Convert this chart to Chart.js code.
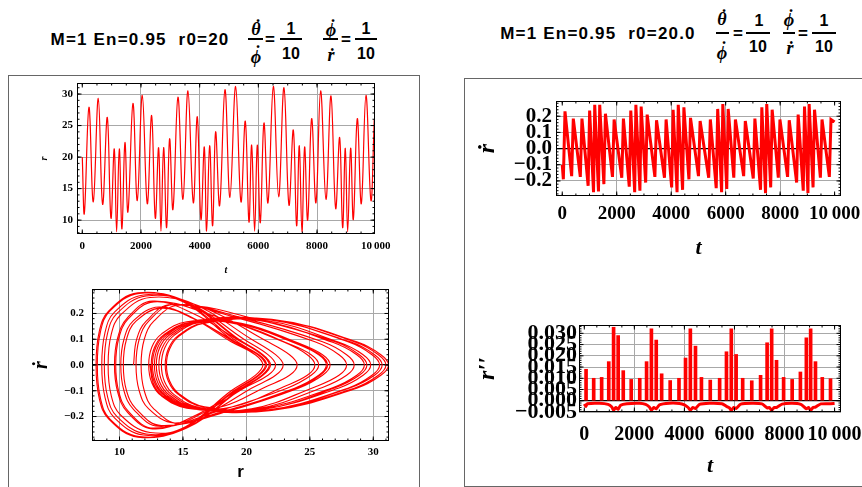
<!DOCTYPE html>
<html>
<head>
<meta charset="utf-8">
<script src="https://cdn.jsdelivr.net/npm/chart.js@4.4.1/dist/chart.umd.min.js"></script>
<style>
  html, body { margin: 0; padding: 0; background: #fff; }
  body { width: 862px; height: 487px; position: relative; overflow: hidden; }
  canvas { position: absolute; }
  .box { position: absolute; border: 1.5px solid #666; box-sizing: border-box; }
  .t { position: absolute; white-space: nowrap; transform: translate(-50%, -50%); line-height: 1; color: #000; }
  .sans { font-family: 'Liberation Sans', Arial, sans-serif; font-weight: bold; }
  .ser { font-family: 'Liberation Serif', 'Times New Roman', serif; font-style: italic; font-weight: bold; }
  .bar { position: absolute; height: 1.5px; background: #000; }
</style>
</head>
<body>
<!-- panel frames -->
<div class="box" style="left:8px;top:75px;width:412px;height:430px"></div>
<div class="box" style="left:464px;top:78px;width:420px;height:409px"></div>

<!-- left title -->
<div class="t sans" style="left:140px;top:39px;font-size:17px;letter-spacing:1.2px">M=1 En=0.95&nbsp; r0=20</div>
<div class="t ser" style="left:257px;top:27px;font-size:18px">˙</div>
<div class="t ser" style="left:256px;top:29px;font-size:18px">θ</div>
<div class="bar" style="left:248px;top:38px;width:15px"></div>
<div class="t ser" style="left:257px;top:53px;font-size:18px">˙</div>
<div class="t ser" style="left:256px;top:57px;font-size:18px">ϕ</div>
<div class="t sans" style="left:270px;top:39px;font-size:17px">=</div>
<div class="bar" style="left:280px;top:38px;width:22px"></div>
<div class="t sans" style="left:291px;top:29px;font-size:16px">1</div>
<div class="t sans" style="left:291px;top:54px;font-size:16px">10</div>
<div class="t ser" style="left:332px;top:27px;font-size:18px">˙</div>
<div class="t ser" style="left:331px;top:30px;font-size:18px">ϕ</div>
<div class="bar" style="left:323px;top:38px;width:15px"></div>
<div class="t ser" style="left:331px;top:55px;font-size:18px">ṙ</div>
<div class="t sans" style="left:346px;top:39px;font-size:17px">=</div>
<div class="bar" style="left:355px;top:38px;width:22px"></div>
<div class="t sans" style="left:366px;top:29px;font-size:16px">1</div>
<div class="t sans" style="left:366px;top:54px;font-size:16px">10</div>

<!-- right title -->
<div class="t sans" style="left:598px;top:33px;font-size:17px;letter-spacing:1.2px">M=1 En=0.95&nbsp; r0=20.0</div>
<div class="t ser" style="left:723px;top:17px;font-size:18px">˙</div>
<div class="t ser" style="left:722px;top:19px;font-size:18px">θ</div>
<div class="bar" style="left:716px;top:32px;width:13px"></div>
<div class="t ser" style="left:723px;top:49px;font-size:18px">˙</div>
<div class="t ser" style="left:722px;top:53px;font-size:18px">ϕ</div>
<div class="t sans" style="left:738px;top:33px;font-size:17px">=</div>
<div class="bar" style="left:746px;top:32px;width:24px"></div>
<div class="t sans" style="left:759px;top:21px;font-size:16px">1</div>
<div class="t sans" style="left:758px;top:47px;font-size:16px">10</div>
<div class="t ser" style="left:790px;top:17px;font-size:18px">˙</div>
<div class="t ser" style="left:789px;top:20px;font-size:18px">ϕ</div>
<div class="bar" style="left:783px;top:32px;width:12px"></div>
<div class="t ser" style="left:790px;top:48px;font-size:18px">ṙ</div>
<div class="t sans" style="left:803px;top:33px;font-size:17px">=</div>
<div class="bar" style="left:812px;top:32px;width:24px"></div>
<div class="t sans" style="left:824px;top:21px;font-size:16px">1</div>
<div class="t sans" style="left:824px;top:47px;font-size:16px">10</div>

<canvas id="cA" width="380" height="200" style="left:20px;top:78px"></canvas>
<canvas id="cB" width="395" height="202" style="left:20px;top:285px"></canvas>
<canvas id="cC" width="392" height="170" style="left:470px;top:95px"></canvas>
<canvas id="cD" width="392" height="167" style="left:470px;top:318px"></canvas>

<script>
// r(t): turning points of the orbit
const rTimes = [0, 70, 227, 375, 545, 693, 852, 977, 1090, 1170, 1261, 1352, 1454, 1556, 1727, 1874, 2045, 2215, 2363, 2488,
  2601, 2681, 2772, 2874, 2976, 3090, 3260, 3431, 3601, 3783, 3919, 4044, 4158, 4237, 4340, 4442, 4544, 4680, 4862, 5032,
  5226, 5407, 5555, 5680, 5771, 5873, 5964, 6066, 6191, 6328, 6510, 6691, 6873, 7043, 7191, 7304, 7395, 7486, 7577, 7680,
  7816, 7963, 8122, 8304, 8475, 8634, 8770, 8872, 8963, 9043, 9145, 9236, 9372, 9508, 9667, 9837, 9950];
const rValues = [20, 11.06, 27.9, 12.9, 29.3, 12.5, 26.3, 10.3, 21.3, 8.15, 21.3, 8.6, 22.3, 11.3, 28.5, 13.1, 29.8, 12.6, 26.6, 10.3,
  21.5, 8.25, 21.5, 8.8, 22.9, 11.7, 29.5, 13.3, 30.5, 12.75, 26.4, 10.1, 21.6, 8.25, 21.8, 9.1, 24, 12.3, 30.7, 13.6,
  31.2, 12.9, 25.7, 9.7, 21.9, 8.25, 21.9, 9.6, 25.4, 12.75, 31.2, 13.7, 31, 12.4, 24.3, 9.1, 21.8, 8.15, 21.6, 10,
  26.1, 12.75, 30.5, 13.3, 29.7, 11.85, 23.1, 8.8, 21.4, 8.15, 21.4, 10.1, 26.1, 12.6, 29.8, 13.1, 26];

// phase portrait (r, rdot) traced along the orbit
const phasePoints = [
  [11.1,0],
  [11.35,.10],[12.1,.17],[14.1,.235],[19.5,.18],[25.4,.09],[27.3,.04],[27.9,0],
  [27.3,-.04],[25.4,-.085],[20.4,-.17],[15.9,-.165],[13.9,-.115],[13.15,-.065],[12.9,0],
  [13.15,.065],[13.9,.115],[15.9,.165],[21.1,.172],[26.8,.088],[28.7,.04],[29.3,0],
  [28.7,-.04],[26.8,-.088],[20.9,-.172],[15.5,-.168],[13.5,-.118],[12.75,-.068],[12.5,0],
  [12.75,.068],[13.5,.118],[15.5,.165],[19.4,.16],[23.8,.085],[25.7,.04],[26.3,0],
  [25.7,-.04],[23.8,-.09],[18.3,-.18],[13.3,-.235],[11.3,-.17],[10.55,-.10],[10.3,0],
  [10.55,.10],[11.3,.17],[13.3,.22],[15.8,.18],[18.8,.09],[20.7,.04],[21.3,0],
  [20.7,-.04],[18.8,-.10],[15,-.245],[11.45,-.28],[9.15,-.21],[8.4,-.13],[8.15,0],
  [8.4,.13],[9.15,.21],[11.45,.28],[15,.245],[18.8,.10],[20.7,.04],[21.3,0],
  [20.7,-.04],[18.8,-.10],[15.2,-.24],[11.9,-.272],[9.6,-.205],[8.85,-.125],[8.6,0],
  [8.85,.125],[9.6,.205],[11.9,.272],[15.5,.24],[19.8,.10],[21.7,.04],[22.3,0],
  [21.7,-.04],[19.8,-.09],[16.8,-.18],[14.3,-.225],[12.3,-.17],[11.55,-.10],[11.3,0],
  [11.55,.10],[12.3,.17],[14.3,.235],[19.9,.18],[26,.09],[27.9,.04],[28.5,0],
  [27.9,-.04],[26,-.087],[20.8,-.17],[16.1,-.165],[14.1,-.115],[13.35,-.065],[13.1,0],
  [13.35,.065],[14.1,.115],[16.1,.165],[21.5,.173],[27.3,.088],[29.2,.04],[29.8,0],
  [29.2,-.04],[27.3,-.089],[21.2,-.173],[15.6,-.167],[13.6,-.117],[12.85,-.067],[12.6,0],
  [12.85,.067],[13.6,.117],[15.6,.166],[19.6,.162],[24.1,.085],[26,.04],[26.6,0],
  [26,-.04],[24.1,-.09],[18.5,-.18],[13.3,-.236],[11.3,-.17],[10.55,-.10],[10.3,0],
  [10.55,.10],[11.3,.17],[13.3,.222],[15.9,.18],[19,.09],[20.9,.04],[21.5,0],
  [20.9,-.04],[19,-.10],[15.1,-.245],[11.55,-.278],[9.25,-.21],[8.5,-.13],[8.25,0],
  [8.5,.13],[9.25,.21],[11.55,.278],[15.1,.245],[19,.10],[20.9,.04],[21.5,0],
  [20.9,-.04],[19,-.10],[15.3,-.238],[12.1,-.268],[9.8,-.2],[9.05,-.122],[8.8,0],
  [9.05,.122],[9.8,.2],[12.1,.268],[15.8,.238],[20.4,.10],[22.3,.04],[22.9,0],
  [22.3,-.04],[20.4,-.09],[17.3,-.18],[14.7,-.228],[12.7,-.17],[11.95,-.10],[11.7,0],
  [11.95,.10],[12.7,.17],[14.7,.232],[20.6,.18],[27,.09],[28.9,.04],[29.5,0],
  [28.9,-.04],[27,-.088],[21.4,-.172],[16.3,-.165],[14.3,-.115],[13.55,-.065],[13.3,0],
  [13.55,.065],[14.3,.115],[16.3,.165],[21.9,.175],[28,.09],[29.9,.04],[30.5,0],
  [29.9,-.04],[28,-.09],[21.6,-.175],[15.75,-.166],[13.75,-.117],[13,-.067],[12.75,0],
  [13,.067],[13.75,.117],[15.75,.166],[19.6,.16],[23.9,.085],[25.8,.04],[26.4,0],
  [25.8,-.04],[23.9,-.09],[18.2,-.18],[13.1,-.238],[11.1,-.172],[10.35,-.10],[10.1,0],
  [10.35,.10],[11.1,.172],[13.1,.225],[15.9,.18],[19.1,.09],[21,.04],[21.6,0],
  [21,-.04],[19.1,-.10],[15.1,-.245],[11.55,-.278],[9.25,-.21],[8.5,-.13],[8.25,0],
  [8.5,.13],[9.25,.21],[11.55,.278],[15.2,.245],[19.3,.10],[21.2,.04],[21.8,0],
  [21.2,-.04],[19.3,-.10],[15.6,-.235],[12.4,-.262],[10.1,-.195],[9.35,-.12],[9.1,0],
  [9.35,.12],[10.1,.195],[12.4,.262],[16.5,.225],[21.5,.095],[23.4,.04],[24,0],
  [23.4,-.04],[21.5,-.085],[18.2,-.16],[15.3,-.168],[13.3,-.12],[12.55,-.07],[12.3,0],
  [12.55,.07],[13.3,.12],[15.3,.168],[21.5,.178],[28.2,.09],[30.1,.04],[30.7,0],
  [30.1,-.04],[28.2,-.088],[22.1,-.172],[16.6,-.163],[14.6,-.113],[13.85,-.063],[13.6,0],
  [13.85,.063],[14.6,.113],[16.6,.163],[22.4,.174],[28.7,.09],[30.6,.04],[31.2,0],
  [30.6,-.04],[28.7,-.09],[22,-.176],[15.9,-.166],[13.9,-.116],[13.15,-.066],[12.9,0],
  [13.15,.066],[13.9,.116],[15.9,.165],[19.3,.158],[23.2,.085],[25.1,.04],[25.7,0],
  [25.1,-.04],[23.2,-.09],[17.7,-.18],[12.7,-.245],[10.7,-.18],[9.95,-.105],[9.7,0],
  [9.95,.105],[10.7,.18],[12.7,.245],[15.8,.2],[19.4,.095],[21.3,.04],[21.9,0],
  [21.3,-.04],[19.4,-.10],[15.3,-.245],[11.55,-.278],[9.25,-.21],[8.5,-.13],[8.25,0],
  [8.5,.13],[9.25,.21],[11.55,.278],[15.3,.245],[19.4,.10],[21.3,.04],[21.9,0],
  [21.3,-.04],[19.4,-.095],[15.8,-.2],[12.6,-.248],[10.6,-.182],[9.85,-.105],[9.6,0],
  [9.85,.105],[10.6,.182],[12.6,.248],[17.5,.19],[22.9,.09],[24.8,.04],[25.4,0],
  [24.8,-.04],[22.9,-.085],[19.1,-.16],[15.75,-.166],[13.75,-.117],[13,-.067],[12.75,0],
  [13,.067],[13.75,.117],[15.75,.166],[22,.177],[28.7,.09],[30.6,.04],[31.2,0],
  [30.6,-.04],[28.7,-.09],[22.4,-.172],[16.7,-.162],[14.7,-.112],[13.95,-.062],[13.7,0],
  [13.95,.062],[14.7,.112],[16.7,.162],[22.4,.174],[28.5,.09],[30.4,.04],[31,0],
  [30.4,-.04],[28.5,-.09],[21.7,-.177],[15.4,-.168],[13.4,-.12],[12.65,-.07],[12.4,0]
];

// rdot(t): extremes of the saw-tooth in the top-right plot
const rdotTimes = [0, 40, 100, 345, 405, 663, 723, 950, 1005, 1148, 1192, 1330, 1375, 1528, 1585, 1844, 1904, 2185, 2245,
  2460, 2516, 2659, 2703, 2851, 2897, 3062, 3118, 3401, 3461, 3753, 3813, 4017, 4071, 4215, 4259, 4418, 4466, 4651, 4709,
  5002, 5062, 5377, 5437, 5653, 5707, 5851, 5895, 6040, 6092, 6298, 6358, 6661, 6721, 7013, 7073, 7280, 7328, 7464, 7508,
  7653, 7707, 7933, 7993, 8274, 8334, 8606, 8662, 8849, 8895, 9021, 9065, 9209, 9263, 9478, 9538, 9807, 9867, 10000];
const rdotValues = [-0.10, -0.19, 0.23, -0.17, 0.185, -0.175, 0.185, -0.23, 0.235, -0.27, 0.27, -0.265, 0.27, -0.22, 0.215,
  -0.175, 0.18, -0.18, 0.185, -0.235, 0.235, -0.27, 0.27, -0.26, 0.26, -0.21, 0.21, -0.175, 0.175, -0.18, 0.18,
  -0.24, 0.24, -0.27, 0.27, -0.255, 0.255, -0.19, 0.19, -0.17, 0.17, -0.18, 0.18, -0.245, 0.245, -0.27, 0.275,
  -0.25, 0.245, -0.18, 0.18, -0.17, 0.17, -0.185, 0.185, -0.255, 0.255, -0.275, 0.275, -0.24, 0.24, -0.18, 0.18,
  -0.175, 0.175, -0.21, 0.21, -0.26, 0.26, -0.275, 0.275, -0.24, 0.24, -0.18, 0.18, -0.175, 0.18, 0.165];

// r''(t): spikes at each periapsis plus the slightly negative background
const spikeTimes = [70, 375, 693, 977, 1170, 1352, 1556, 1874, 2215, 2488, 2681, 2874, 3090, 3431, 3783, 4044, 4237, 4442, 4680,
  5032, 5407, 5680, 5873, 6066, 6328, 6691, 7043, 7304, 7486, 7680, 7963, 8304, 8634, 8872, 9043, 9236, 9508, 9837];
const spikeValues = [0.014, 0.010, 0.0104, 0.0174, 0.0327, 0.029, 0.0134, 0.0095, 0.010, 0.0174, 0.032, 0.027, 0.012, 0.009,
  0.010, 0.019, 0.032, 0.0243, 0.0104, 0.0092, 0.010, 0.0218, 0.032, 0.0206, 0.010, 0.0089, 0.0113, 0.0258, 0.032, 0.018,
  0.0104, 0.0095, 0.0128, 0.028, 0.032, 0.0174, 0.0104, 0.0098];
const baseTimes = [0, 60, 120, 600, 950, 1100, 1170, 1260, 1352, 1450, 1700, 2200, 2450, 2600, 2681, 2780, 2874, 3000, 3400,
  3800, 4000, 4150, 4237, 4340, 4442, 4600, 5000, 5500, 5680, 5800, 5873, 5970, 6066, 6250, 6700, 7100, 7304, 7400, 7486,
  7580, 7680, 7900, 8300, 8650, 8872, 8960, 9043, 9140, 9236, 9450, 9837, 10000];
const baseValues = [-0.0014, -0.0025, -0.0013, -0.0011, -0.0016, -0.0028, -0.0042, -0.003, -0.0038, -0.002, -0.0013, -0.0011,
  -0.0016, -0.0028, -0.0042, -0.003, -0.0036, -0.0018, -0.0011, -0.0012, -0.0018, -0.003, -0.0042, -0.003, -0.0035, -0.0016,
  -0.0011, -0.0013, -0.0025, -0.0032, -0.0043, -0.003, -0.0034, -0.0015, -0.0011, -0.0014, -0.0032, -0.003, -0.0043, -0.003,
  -0.003, -0.0015, -0.0011, -0.0016, -0.0036, -0.003, -0.0043, -0.003, -0.0028, -0.0014, -0.0013, -0.0012];

// tick values and labels
const tTicks = [0, 2000, 4000, 6000, 8000, 10000];
const tLabels = ['0', '2000', '4000', '6000', '8000', '10\u2009000'];
const rTicks = [10, 15, 20, 25, 30];
const rLabels = ['10', '15', '20', '25', '30'];
const phaseXTicks = [10, 15, 20, 25, 30];
const phaseXLabels = ['10', '15', '20', '25', '30'];
const rdotTicks = [-0.2, -0.1, 0, 0.1, 0.2];
const rdotLabels = ['\u22120.2', '\u22120.1', '0.0', '0.1', '0.2'];
const rddTicks = [-0.005, 0, 0.005, 0.01, 0.015, 0.02, 0.025, 0.03];
const rddLabels = ['\u22120.005', '0.000', '0.005', '0.010', '0.015', '0.020', '0.025', '0.030'];

const RED = '#ff0000';
const GRID = '#a8a8a8';
const SERIF = "'Liberation Serif', 'Times New Roman', serif";

// frame with inward ticks (major on the scale ticks, minor by step)
const framePlugin = {
  id: 'frame',
  afterDatasetsDraw(chart, args, opts) {
    const { ctx, chartArea: a, scales: { x, y } } = chart;
    const L = Math.round(a.left) + 0.5, R = Math.round(a.right) - 0.5;
    const T = Math.round(a.top) + 0.5, B = Math.round(a.bottom) - 0.5;
    ctx.save();
    ctx.strokeStyle = '#000';
    ctx.lineWidth = 1;
    ctx.beginPath();
    const xMark = (v, len) => {
      const p = x.getPixelForValue(v);
      if (p < L || p > R) return;
      ctx.moveTo(p, B); ctx.lineTo(p, B - len);
      ctx.moveTo(p, T); ctx.lineTo(p, T + len);
    };
    const yMark = (v, len) => {
      const p = y.getPixelForValue(v);
      if (p < T || p > B) return;
      ctx.moveTo(L, p); ctx.lineTo(L + len, p);
      ctx.moveTo(R, p); ctx.lineTo(R - len, p);
    };
    for (let v = Math.ceil(x.min / opts.xMinor) * opts.xMinor; v <= x.max; v += opts.xMinor) xMark(v, 2);
    for (let v = Math.ceil(y.min / opts.yMinor) * opts.yMinor; v <= y.max; v += opts.yMinor) yMark(v, 2);
    x.ticks.forEach(t => xMark(t.value, 4));
    y.ticks.forEach(t => yMark(t.value, 4));
    ctx.stroke();
    ctx.strokeRect(L, T, R - L, B - T);
    ctx.restore();
  }
};

function axis(o) {
  return {
    type: 'linear',
    min: o.min,
    max: o.max,
    offset: false,
    afterBuildTicks: s => { s.ticks = o.ticks.map(v => ({ value: v })); },
    afterFit: s => {
      if (o.w != null) s.width = o.w;
      if (o.h != null) s.height = o.h;
      s.paddingLeft = 0; s.paddingRight = 0; s.paddingTop = 0; s.paddingBottom = 0;
    },
    border: { display: false },
    grid: {
      drawTicks: false,
      offset: false,
      color: c => o.hide.includes(c.tick.value) ? 'rgba(0,0,0,0)' : (c.tick.value === 0 ? '#000' : GRID),
      lineWidth: c => c.tick.value === 0 ? 1.3 : 1
    },
    ticks: {
      autoSkip: false, maxRotation: 0, minRotation: 0,
      padding: o.pad, color: '#000',
      font: { family: SERIF, weight: 'bold', size: o.fs },
      callback: (v, i) => o.labels[i]
    },
    title: { display: true, text: o.title, color: '#000', font: o.tfont, padding: o.tpad }
  };
}

function baseOptions(pad, frame) {
  return {
    responsive: false,
    animation: false,
    events: [],
    layout: { padding: pad },
    plugins: { legend: { display: false }, tooltip: { enabled: false }, frame: frame }
  };
}

// top-left: r(t)
new Chart(document.getElementById('cA'), {
  type: 'scatter',
  data: {
    datasets: [{
      data: rTimes.map((t, i) => ({ x: t, y: rValues[i] })),
      showLine: true, borderColor: RED, borderWidth: 1.2, pointRadius: 0, tension: 0.4
    }]
  },
  options: Object.assign(baseOptions({ top: 5, right: 25, left: 0, bottom: 0 }, { xMinor: 500, yMinor: 1 }), {
    scales: {
      x: axis({ min: -180, max: 9975, ticks: tTicks, labels: tLabels, hide: [0, 10000], h: 44, pad: 6, fs: 11,
        title: 't', tfont: { family: SERIF, style: 'italic', weight: 'bold', size: 10 }, tpad: { top: 0, bottom: 2 } }),
      y: axis({ min: 7.8, max: 31.75, ticks: rTicks, labels: rLabels, hide: [], w: 57, pad: 4, fs: 11,
        title: 'r', tfont: { family: SERIF, style: 'italic', weight: 'bold', size: 10 }, tpad: { top: 18, bottom: 0 } })
    }
  }),
  plugins: [framePlugin]
});

// bottom-left: phase portrait
new Chart(document.getElementById('cB'), {
  type: 'scatter',
  data: {
    datasets: [{
      data: phasePoints.map(p => ({ x: p[0], y: p[1] })),
      showLine: true, borderColor: RED, borderWidth: 1.1, pointRadius: 0, tension: 0.4
    }]
  },
  options: Object.assign(baseOptions({ top: 4, right: 26, left: 0, bottom: 0 }, { xMinor: 1, yMinor: 0.02 }), {
    scales: {
      x: axis({ min: 7.83, max: 31.24, ticks: phaseXTicks, labels: phaseXLabels, hide: [], h: 46, pad: 5, fs: 11,
        title: 'r', tfont: { family: "'Liberation Sans', Arial, sans-serif", weight: 'bold', size: 17 }, tpad: { top: 0, bottom: 4 } }),
      y: axis({ min: -0.295, max: 0.295, ticks: rdotTicks, labels: rdotLabels, hide: [], w: 72, pad: 8, fs: 11,
        title: 'ṙ', tfont: { family: SERIF, style: 'italic', weight: 'bold', size: 20 }, tpad: { top: 10, bottom: 0 } })
    }
  }),
  plugins: [framePlugin]
});

// top-right: rdot(t)
new Chart(document.getElementById('cC'), {
  type: 'scatter',
  data: {
    datasets: [{
      data: rdotTimes.map((t, i) => ({ x: t, y: rdotValues[i] })),
      showLine: true, borderColor: RED, borderWidth: 3, pointRadius: 0, tension: 0
    }]
  },
  options: Object.assign(baseOptions({ top: 6, right: 21, left: 0, bottom: 0 }, { xMinor: 500, yMinor: 0.02 }), {
    scales: {
      x: axis({ min: -230, max: 10235, ticks: tTicks, labels: tLabels, hide: [0, 10000], h: 69, pad: 7, fs: 19,
        title: 't', tfont: { family: SERIF, style: 'italic', weight: 'bold', size: 22 }, tpad: { top: 0, bottom: 3 } }),
      y: axis({ min: -0.293, max: 0.294, ticks: rdotTicks, labels: rdotLabels, hide: [], w: 86, pad: 4, fs: 21,
        title: 'ṙ', tfont: { family: SERIF, style: 'italic', weight: 'bold', size: 24 }, tpad: { top: 3, bottom: 0 } })
    }
  }),
  plugins: [framePlugin]
});

// bottom-right: r''(t)
new Chart(document.getElementById('cD'), {
  type: 'bar',
  data: {
    datasets: [{
      type: 'bar',
      data: spikeTimes.map((t, i) => ({ x: t, y: spikeValues[i] })),
      backgroundColor: RED, barThickness: 3
    }, {
      type: 'line',
      data: baseTimes.map((t, i) => ({ x: t, y: baseValues[i] })),
      borderColor: RED, borderWidth: 3, pointRadius: 0, tension: 0.2, fill: false
    }]
  },
  options: Object.assign(baseOptions({ top: 7, right: 21, left: 0, bottom: 0 }, { xMinor: 500, yMinor: 0.001 }), {
    scales: {
      x: axis({ min: -212, max: 10256, ticks: tTicks, labels: tLabels, hide: [0, 10000], h: 73, pad: 11, fs: 20,
        title: 't', tfont: { family: SERIF, style: 'italic', weight: 'bold', size: 22 }, tpad: { top: 0, bottom: 5 } }),
      y: axis({ min: -0.005, max: 0.0337, ticks: rddTicks, labels: rddLabels, hide: [], w: 109, pad: 2, fs: 22,
        title: 'r\u2032\u2032', tfont: { family: SERIF, style: 'italic', weight: 'bold', size: 24 }, tpad: { top: 3, bottom: 0 } })
    }
  }),
  plugins: [framePlugin]
});
</script>
</body>
</html>
